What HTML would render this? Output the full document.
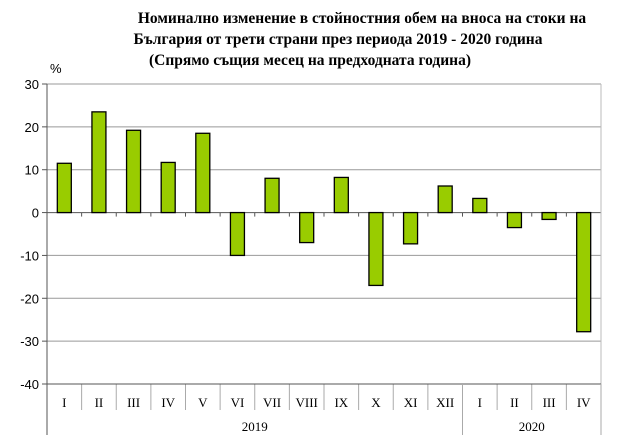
<!DOCTYPE html>
<html><head><meta charset="utf-8"><style>
body{margin:0;background:#fff;}
svg{display:block;font-family:"Liberation Serif",serif;}
</style></head><body>
<svg width="630" height="438">
<g font-weight="bold" font-size="15.5" text-anchor="middle">
<text x="362" y="23">Номинално изменение в стойностния обем  на вноса на стоки на</text>
<text x="338" y="44">България от трети страни през периода 2019 - 2020 година</text>
<text x="310" y="65">(Спрямо същия месец на предходната година)</text>
</g>
<text x="50" y="73" font-family="Liberation Sans,sans-serif" font-size="13">%</text>
<g id="grid"></g><g id="bars"></g><g id="axes"></g>
</svg>
<script>
const categories=["I","II","III","IV","V","VI","VII","VIII","IX","X","XI","XII","I","II","III","IV"];
const values=[11.5,23.5,19.2,11.7,18.5,-10,8,-7,8.2,-17,-7.3,6.2,3.3,-3.5,-1.6,-27.8];
const yTicks=[30,20,10,0,-10,-20,-30,-40];
const years=["2019","2020"];
const yearCounts=[12,4];
const NS="http://www.w3.org/2000/svg";
const L=47,R=601,T=84,B=384,ymin=-40,ymax=30;
const y=v=>T+(ymax-v)/(ymax-ymin)*(B-T);
const cw=(R-L)/categories.length;
const x=i=>L+cw*i;
function mk(tag,a,p){const e=document.createElementNS(NS,tag);for(const k in a)e.setAttribute(k,a[k]);p.appendChild(e);return e;}
const grid=document.getElementById('grid'),bars=document.getElementById('bars'),axes=document.getElementById('axes');
yTicks.forEach(t=>{
 const g=mk('line',{x1:L,x2:R,y1:y(t),y2:y(t),stroke:t==0?'#555':'#999','stroke-width':1},grid);
 
 
 mk('line',{x1:L-5,x2:L,y1:y(t),y2:y(t),stroke:'#555'},axes);
 const tx=mk('text',{x:L-8,y:y(t)+5,'text-anchor':'end','font-size':13,'font-family':'Liberation Sans,sans-serif'},axes);
 tx.textContent=t;
 
 
});
mk('line',{x1:R,x2:R,y1:T,y2:B,stroke:'#bbb'},grid);
values.forEach((v,i)=>{
 const cx=x(i)+cw/2,y0=y(0),y1=y(v);
 const r=mk('rect',{x:cx-7,y:Math.min(y0,y1),width:14,height:Math.abs(y1-y0),fill:'#99cc00',stroke:'#000','stroke-width':1.3},bars);
 
 
 const lb=mk('text',{x:cx,y:B+23,'text-anchor':'middle','font-size':13},axes);
 lb.textContent=categories[i];
 
 
 if(i>0) mk('line',{x1:x(i),x2:x(i),y1:y(0),y2:y(0)+4,stroke:'#555'},axes);
 if(i>0) mk('line',{x1:x(i),x2:x(i),y1:B,y2:B+26,stroke:'#aaa'},axes);
});
mk('line',{x1:L,x2:L,y1:T,y2:435,stroke:'#555'},axes);
mk('line',{x1:L,x2:R,y1:B,y2:B,stroke:'#555'},axes);
let s=0;
years.forEach((yr,j)=>{
 const a=x(s),b=x(s+yearCounts[j]);
 const t=mk('text',{x:(a+b)/2,y:431,'text-anchor':'middle','font-size':13},axes);
 t.textContent=yr;
 
 
 mk('line',{x1:b,x2:b,y1:B,y2:435,stroke:'#aaa'},axes);
 s+=yearCounts[j];
});
</script>
</body></html>
